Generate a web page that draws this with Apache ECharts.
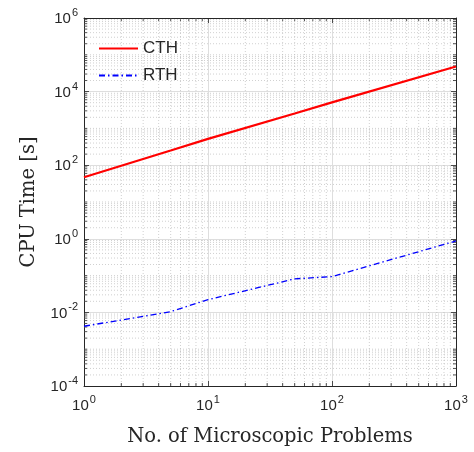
<!DOCTYPE html>
<html><head><meta charset="utf-8">
<script src="https://cdn.jsdelivr.net/npm/echarts@6/dist/echarts.min.js"></script>
<style>html,body{margin:0;padding:0;background:#fff}#c{width:474px;height:452px}</style>
</head><body><div id="c"></div>
<script>
// ---- data ----
const problems = [1, 5, 10, 50, 100, 1000];
const cthTime = [47, 250, 520, 2550, 5100, 48000];
const rthTime = [0.0042, 0.0105, 0.0222, 0.0815, 0.094, 0.873];
const xTickExps = [0, 1, 2, 3];
const yTickExps = [-4, -2, 0, 2, 4, 6];

// minor grid positions (log-axis 2..9 multiples, plus odd decades on y)
const xMinor = [];
for (let d = 0; d < 3; d++) for (let m = 2; m <= 9; m++) xMinor.push(m * Math.pow(10, d));
const yMinor = [];
for (let d = -4; d < 6; d++) {
  if (d % 2 !== 0) yMinor.push(Math.pow(10, d));
  for (let m = 2; m <= 9; m++) yMinor.push(m * Math.pow(10, d));
}

const axisColor = '#262626';
const sans = 'Liberation Sans';
const serif = 'DejaVu Serif';
const rich = {
  b: {fontSize: 15, fontFamily: sans, color: axisColor, lineHeight: 17, verticalAlign: 'bottom'},
  s: {fontSize: 11, fontFamily: sans, color: axisColor, lineHeight: 11, padding: [0, 0, 8, 1], verticalAlign: 'bottom'}
};
const fmt = v => '{b|10}{s|' + Math.round(Math.log10(v)) + '}';

function xMinorRender(params, api) {
  const cs = params.coordSys;
  const x = api.coord([api.value(0), 1])[0];
  const style = {stroke: '#b0b0b0', lineWidth: 0.6, lineDash: [1, 2]};
  return {type: 'group', silent: true, children: [
    {type: 'line', shape: {x1: x, y1: cs.y, x2: x, y2: cs.y + cs.height}, style: style},
    {type: 'line', shape: {x1: x, y1: cs.y + cs.height, x2: x, y2: cs.y + cs.height - 3}, style: {stroke: axisColor, lineWidth: 0.8}},
    {type: 'line', shape: {x1: x, y1: cs.y, x2: x, y2: cs.y + 3}, style: {stroke: axisColor, lineWidth: 0.8}}
  ]};
}
function yMinorRender(params, api) {
  const cs = params.coordSys;
  const y = api.coord([1, api.value(0)])[1];
  const style = {stroke: '#b0b0b0', lineWidth: 0.6, lineDash: [1, 2]};
  return {type: 'group', silent: true, children: [
    {type: 'line', shape: {x1: cs.x, y1: y, x2: cs.x + cs.width, y2: y}, style: style},
    {type: 'line', shape: {x1: cs.x, y1: y, x2: cs.x + 3, y2: y}, style: {stroke: axisColor, lineWidth: 0.8}},
    {type: 'line', shape: {x1: cs.x + cs.width, y1: y, x2: cs.x + cs.width - 3, y2: y}, style: {stroke: axisColor, lineWidth: 0.8}}
  ]};
}

const baseX = {
  type: 'log', logBase: 10, min: 1, max: 1000,
  axisLine: {show: true, lineStyle: {color: axisColor, width: 1}},
  axisTick: {show: true, inside: true, length: 5, lineStyle: {color: axisColor, width: 0.8}},
  minorTick: {show: false}, minorSplitLine: {show: false}
};
const baseY = {
  type: 'log', logBase: 10, min: 1e-4, max: 1e6, interval: 2,
  axisLine: {show: true, lineStyle: {color: axisColor, width: 1}},
  axisTick: {show: true, inside: true, length: 5, lineStyle: {color: axisColor, width: 0.8}},
  minorTick: {show: false}, minorSplitLine: {show: false}
};

const chart = echarts.init(document.getElementById('c'), null, {renderer: 'canvas'});
chart.setOption({
  backgroundColor: '#fff',
  animation: false,
  grid: {left: 84, top: 18, right: 18, bottom: 61, containLabel: false},
  legend: {
    data: ['CTH', 'RTH'], orient: 'vertical', left: 93, top: 35,
    itemWidth: 39, itemHeight: 18, itemGap: 10,
    itemStyle: {color: 'transparent', borderColor: 'transparent', borderWidth: 0, opacity: 0},
    textStyle: {fontFamily: sans, fontSize: 17, color: axisColor, padding: [0, 0, 0, 0]}
  },
  xAxis: [
    Object.assign({}, baseX, {
      position: 'bottom',
      splitLine: {show: true, lineStyle: {color: '#dedede', width: 1}},
      axisLabel: {formatter: fmt, rich: rich, margin: 10},
      name: 'No. of Microscopic Problems', nameLocation: 'middle', nameGap: 41,
      nameTextStyle: {fontFamily: serif, fontSize: 19.5, color: axisColor}
    }),
    Object.assign({}, baseX, {position: 'top', splitLine: {show: false}, axisLabel: {show: false}})
  ],
  yAxis: [
    Object.assign({}, baseY, {
      position: 'left',
      splitLine: {show: true, lineStyle: {color: '#dedede', width: 1}},
      axisLabel: {formatter: fmt, rich: rich, margin: 6},
      name: 'CPU Time [s]', nameLocation: 'middle', nameGap: 45,
      nameTextStyle: {fontFamily: serif, fontSize: 19.5, color: axisColor}
    }),
    Object.assign({}, baseY, {position: 'right', splitLine: {show: false}, axisLabel: {show: false}})
  ],
  series: [
    {type: 'custom', name: 'xminor', renderItem: xMinorRender, data: xMinor.map(v => [v]), silent: true, z: 1,
     encode: {x: 0}, clip: false},
    {type: 'custom', name: 'yminor', renderItem: yMinorRender, data: yMinor.map(v => [v]), silent: true, z: 1,
     encode: {y: 0}, clip: false},
    {type: 'line', name: 'CTH', data: problems.map((p, i) => [p, cthTime[i]]), showSymbol: false, symbol: 'none',
     color: '#ff0000', lineStyle: {color: '#ff0000', width: 2.2}, z: 5},
    {type: 'line', name: 'RTH', data: problems.map((p, i) => [p, rthTime[i]]), showSymbol: false, symbol: 'none',
     color: '#0000ff', lineStyle: {color: '#0000ff', width: 1.3, type: [6, 3, 1.5, 3]}, z: 5}
  ]
});
</script></body></html>
